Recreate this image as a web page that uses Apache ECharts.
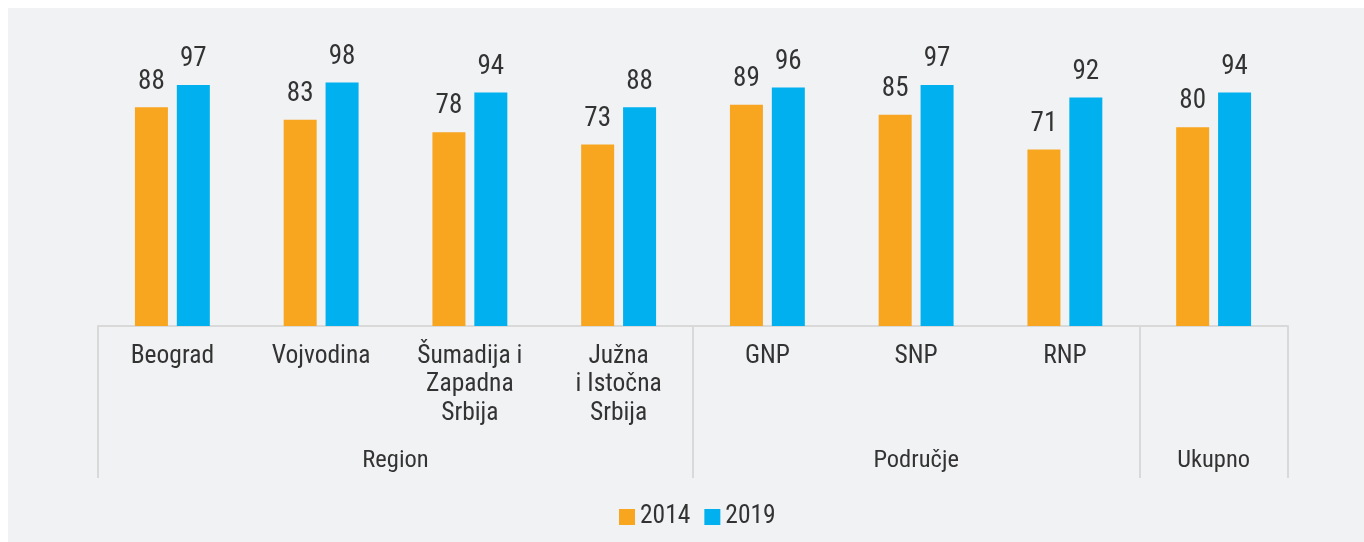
<!DOCTYPE html>
<html>
<head>
<meta charset="utf-8">
<script src="https://cdn.jsdelivr.net/npm/echarts@6/dist/echarts.min.js"></script>
<style>
  html, body { margin: 0; padding: 0; background: #ffffff; }
  #chart { position: absolute; left: 8px; top: 8px; width: 1356px; height: 534px; }
</style>
</head>
<body>
<div id="chart"></div>
<script>
// kategorije i vrijednosti
const categories = ['Beograd', 'Vojvodina', 'Šumadija i\nZapadna\nSrbija', 'Južna\ni Istočna\nSrbija', 'GNP', 'SNP', 'RNP', '']
const values2014 = [88, 83, 78, 73, 89, 85, 71, 80]
const values2019 = [97, 98, 94, 88, 96, 97, 92, 94]
const groupNames = ['Region', 'Područje', 'Ukupno']
const groupSizes = [4, 3, 1]
const seriesNames = ['2014', '2019']

const FONT = "'Roboto Condensed', 'Liberation Sans Narrow', 'DejaVu Sans Condensed', sans-serif"

// granice i centri grupa (u jedinicama kategorija)
let groupStarts = []
let groupCenters = {}
let acc = 0
for (let i = 0; i < groupSizes.length; i++) {
  groupStarts.push(acc)
  groupCenters[acc + groupSizes[i] / 2] = groupNames[i]
  acc += groupSizes[i]
}

const chart = echarts.init(document.getElementById('chart'))
const option = {
  backgroundColor: '#f1f2f4',
  textStyle: { fontFamily: FONT },
  legend: {
    data: seriesNames,
    top: 491,
    left: 606,
    icon: 'rect',
    itemWidth: 16,
    itemHeight: 16,
    itemGap: 14,
    textStyle: { color: '#333333', fontSize: 25.5, fontFamily: FONT }
  },
  grid: {
    left: 90,
    right: 76,
    top: 69.5,
    bottom: 216,
    containLabel: false
  },
  xAxis: [
    {
      type: 'category',
      data: categories,
      axisLine: { show: true, lineStyle: { color: '#d9d9d9', width: 2 } },
      axisTick: {
        show: true,
        length: 152,
        interval: function (index) { return groupStarts.indexOf(index) >= 0 },
        lineStyle: { color: '#d9d9d9', width: 2 }
      },
      axisLabel: {
        interval: 0,
        margin: 16,
        color: '#333333',
        fontSize: 25.5,
        lineHeight: 28.5,
        fontFamily: FONT
      }
    },
    {
      type: 'value',
      position: 'bottom',
      min: 0,
      max: acc,
      interval: 0.5,
      axisLine: { show: false },
      axisTick: { show: false },
      splitLine: { show: false },
      axisLabel: {
        margin: 122,
        color: '#333333',
        fontSize: 24.5,
        fontFamily: FONT,
        showMinLabel: true,
        showMaxLabel: true,
        formatter: function (v) { return groupCenters[v] || '' }
      }
    }
  ],
  yAxis: {
    type: 'value',
    min: 0,
    max: 100,
    show: false,
    splitLine: { show: false }
  },
  series: [
    {
      name: seriesNames[0],
      type: 'bar',
      xAxisIndex: 0,
      data: values2014,
      barWidth: 33,
      barGap: '27%',
      itemStyle: { color: '#f8a51f' },
      label: { show: true, position: 'top', distance: 12, color: '#333333', fontSize: 27, fontFamily: FONT }
    },
    {
      name: seriesNames[1],
      type: 'bar',
      xAxisIndex: 0,
      data: values2019,
      barWidth: 33,
      barGap: '27%',
      itemStyle: { color: '#00b0ef' },
      label: { show: true, position: 'top', distance: 12, color: '#333333', fontSize: 27, fontFamily: FONT }
    }
  ]
}
chart.setOption(option)
</script>
</body>
</html>
